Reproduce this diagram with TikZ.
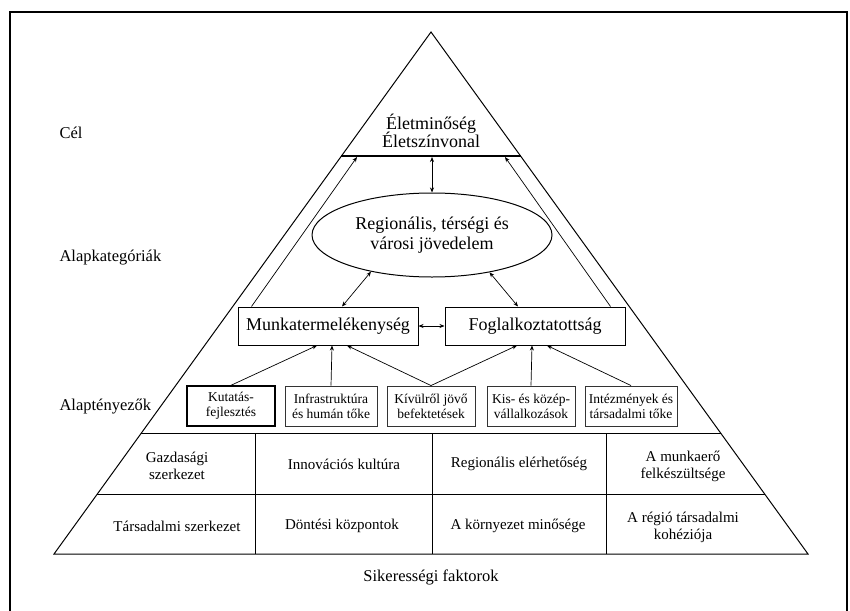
\documentclass[tikz,border=0pt]{standalone}
\usepackage{fontspec}
\setmainfont{Liberation Serif}
\usetikzlibrary{shapes.geometric,arrows.meta,calc}
\begin{document}
\begin{tikzpicture}[x=1pt,y=-1pt,
  tipone/.style={-{Stealth[length=5pt,width=4pt]}},
  tiptwo/.style={{Stealth[length=5pt,width=4pt]}-{Stealth[length=5pt,width=4pt]}},
  conn/.style={line width=0.7pt},
  bigtxt/.style={font=\fontsize{18}{20}\selectfont, align=center},
  rowtxt/.style={font=\fontsize{15}{17}\selectfont, align=center},
  lbl/.style={font=\fontsize{16.5}{18}\selectfont, anchor=west},
  catbox/.style={draw, line width=1pt, minimum width=180pt, minimum height=38pt, inner sep=0pt, font=\fontsize{18}{20}\selectfont},
  facbox/.style={draw=black!80, line width=0.9pt, minimum height=40pt, inner sep=0pt, align=center, font=\fontsize{13.5}{15}\selectfont},
  firstbox/.style={draw, line width=1.4pt, minimum height=40pt, inner sep=0pt, align=center, font=\fontsize{13.5}{15}\selectfont},
  pyr/.style={line width=1pt, line join=miter}
]
\useasboundingbox (0,0) rectangle (850,610);

% frame
\draw[line width=2.6pt] (10,615) -- (10,12) -- (847,12) -- (847,615);

% pyramid
\coordinate (apex) at (431,32);
\coordinate (bl) at (54,554);
\coordinate (br) at (808,554);
\draw[pyr] (apex) -- (br) -- (bl) -- cycle;
\draw[pyr, line width=1.4pt] ($(apex)!0.2375!(bl)$) -- ($(apex)!0.2375!(br)$);
\draw[pyr] ($(apex)!0.7682!(bl)$) -- ($(apex)!0.7682!(br)$);
\draw[pyr] ($(apex)!0.8851!(bl)$) -- ($(apex)!0.8851!(br)$);
\foreach \vx in {255,432,606} \draw[pyr] (\vx,433) -- (\vx,554);

% left labels
\node[lbl] (lcel) at (56,133) {Cél};
\node[lbl] (lkat) at (56,258) {Alapkategóriák};
\node[lbl] (lten) at (56,407) {Alaptényezők};

% top
\node[bigtxt] (elet) at (431,131) {Életminőség\\[-2pt]Életszínvonal};
\coordinate (bandc) at (432,157);
\coordinate (bandl) at (357,157);
\coordinate (bandr) at (505,157);

% ellipse
\node[draw, ellipse, line width=1pt, minimum width=240pt, minimum height=84pt, inner sep=0pt, bigtxt] (ell) at (432,235) {Regionális, térségi és\\városi jövedelem};

% categories
\node[catbox] (munka) at (328,326) {Munkatermelékenység};
\node[catbox] (fogl) at (535,326) {Foglalkoztatottság};

% factors
\node[firstbox, minimum width=88pt] (k1) at (231,406) {Kutatás-\\fejlesztés};
\node[facbox, minimum width=92pt] (k2) at (331,406) {Infrastruktúra\\és humán tőke};
\node[facbox, minimum width=88pt] (k3) at (431,406) {Kívülről jövő\\befektetések};
\node[facbox, minimum width=88pt] (k4) at (531,406) {Kis- és közép-\\vállalkozások};
\node[facbox, minimum width=92pt] (k5) at (631,406) {Intézmények és\\társadalmi tőke};

% success factor rows
\node[rowtxt] (r11) at (177,466) {Gazdasági\\szerkezet};
\node[rowtxt] (r12) at (344,464) {Innovációs kultúra};
\node[rowtxt] (r13) at (519,464) {Regionális elérhetőség};
\node[rowtxt] (r14) at (683,466) {A munkaerő\\felkészültsége};
\node[rowtxt] (r21) at (177,526) {Társadalmi szerkezet};
\node[rowtxt] (r22) at (342,526) {Döntési központok};
\node[rowtxt] (r23) at (518,526) {A környezet minősége};
\node[rowtxt] (r24) at (683,527) {A régió társadalmi\\kohéziója};
\node[font=\fontsize{16.5}{18}\selectfont] (sik) at (431,577) {Sikerességi faktorok};

% connector points
\coordinate (mtl) at ([xshift=14pt]munka.north west);
\coordinate (ftr) at ([xshift=-15pt]fogl.north east);
\coordinate (mtop) at ([xshift=14pt]munka.north);
\coordinate (ftop) at ([xshift=-17pt]fogl.north);
\coordinate (mb1) at ([xshift=-11pt]munka.south);
\coordinate (mb2) at ([xshift=4pt]munka.south);
\coordinate (mb3) at ([xshift=19pt]munka.south);
\coordinate (fb1) at ([xshift=-18pt]fogl.south);
\coordinate (fb2) at ([xshift=-3pt]fogl.south);
\coordinate (fb3) at ([xshift=12pt]fogl.south);

% connectors
\draw[conn, tipone] (mtl) -- (bandl);
\draw[conn, tipone] (ftr) -- (bandr);
\draw[conn, tiptwo] (ell.north) -- (bandc);
\draw[conn, tiptwo] (mtop) -- (ell.211);
\draw[conn, tiptwo] (ftop) -- (ell.327);
\draw[conn, tiptwo] (munka.east) -- (fogl.west);
\draw[conn, tipone] (k1.north) -- (mb1);
\draw[conn, tipone] (k2.north) -- (mb2);
\draw[conn, tipone] (k3.north) -- (mb3);
\draw[conn, tipone] (k3.north) -- (fb1);
\draw[conn, tipone] (k4.north) -- (fb2);
\draw[conn, tipone] (k5.north) -- (fb3);
\end{tikzpicture}
\end{document}
